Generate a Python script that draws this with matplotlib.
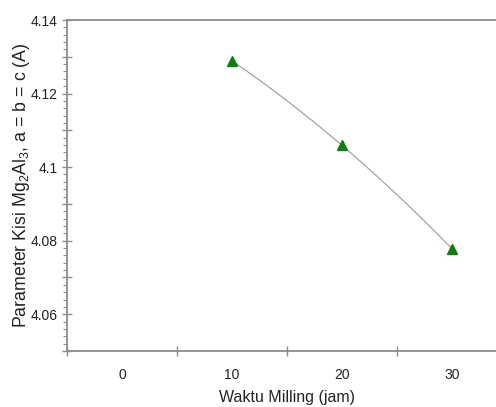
import numpy as np
import matplotlib
matplotlib.use("Agg")
import matplotlib.pyplot as plt
from matplotlib.ticker import MultipleLocator, FixedLocator, NullFormatter, FixedFormatter

plt.rcParams['font.family'] = ['Liberation Sans', 'DejaVu Sans']
plt.rcParams['mathtext.fontset'] = 'custom'
plt.rcParams['mathtext.rm'] = 'Liberation Sans'
plt.rcParams['mathtext.it'] = 'Liberation Sans:italic'

# Milling time (hours) and lattice parameter (Angstrom)
milling_hours = [10, 20, 30]
lattice_param = [4.1289, 4.1059, 4.0778]
x_tick_labels = ["0", "10", "20", "30"]

fig = plt.figure(figsize=(4.96, 4.07), dpi=100)
ax = fig.add_axes([67 / 496, 1 - 351 / 407, 440 / 496, 331 / 407])

# smooth quadratic curve through the measured points
coef = np.polyfit(milling_hours, lattice_param, 2)
xs = np.linspace(milling_hours[0], milling_hours[-1], 200)
ax.plot(xs, np.polyval(coef, xs), color='#9a9a9a', lw=0.8, zorder=2)
ax.plot(milling_hours, lattice_param, linestyle='none', marker='^',
        markersize=6.5, color='#0a7f0a', markeredgecolor='#0a7f0a', zorder=3)

ax.set_xlim(-5, 35)
ax.set_ylim(4.05, 4.14)

axis_color = '#8c8c8c'
for side in ['left', 'bottom', 'top', 'right']:
    ax.spines[side].set_color(axis_color)
    ax.spines[side].set_linewidth(1.3)

# x: tick marks between categories, labels centred on the values
ax.xaxis.set_major_locator(FixedLocator([-5, 5, 15, 25, 35]))
ax.xaxis.set_major_formatter(NullFormatter())
ax.xaxis.set_minor_locator(FixedLocator([0, 10, 20, 30]))
ax.xaxis.set_minor_formatter(FixedFormatter(x_tick_labels))
ax.tick_params(axis='x', which='major', direction='inout', length=7,
               width=1, color=axis_color)
ax.tick_params(axis='x', which='minor', length=0, pad=12,
               labelsize=10, labelcolor='#222222')

# y: labelled every 0.02, unlabelled major every 0.01, minor every 0.002
ax.yaxis.set_major_locator(MultipleLocator(0.01))
ax.yaxis.set_major_formatter(
    plt.FuncFormatter(lambda v, p: ('%g' % round(v, 3)) if abs(round(v * 100) % 2) < 0.5 else ''))
ax.yaxis.set_minor_locator(MultipleLocator(0.002))
ax.tick_params(axis='y', which='major', direction='inout', length=7,
               width=1, color=axis_color, labelsize=10, labelcolor='#222222', pad=3)
ax.tick_params(axis='y', which='minor', direction='out', length=3,
               width=0.8, color=axis_color)

ax.set_xlabel('Waktu Milling (jam)', fontsize=11.5, color='#222222', labelpad=6)
ax.set_ylabel(r'Parameter Kisi Mg$_2$Al$_3$, a = b = c (A)', fontsize=12.8,
              color='#222222', labelpad=-1)

fig.savefig('out.png', dpi=100)
